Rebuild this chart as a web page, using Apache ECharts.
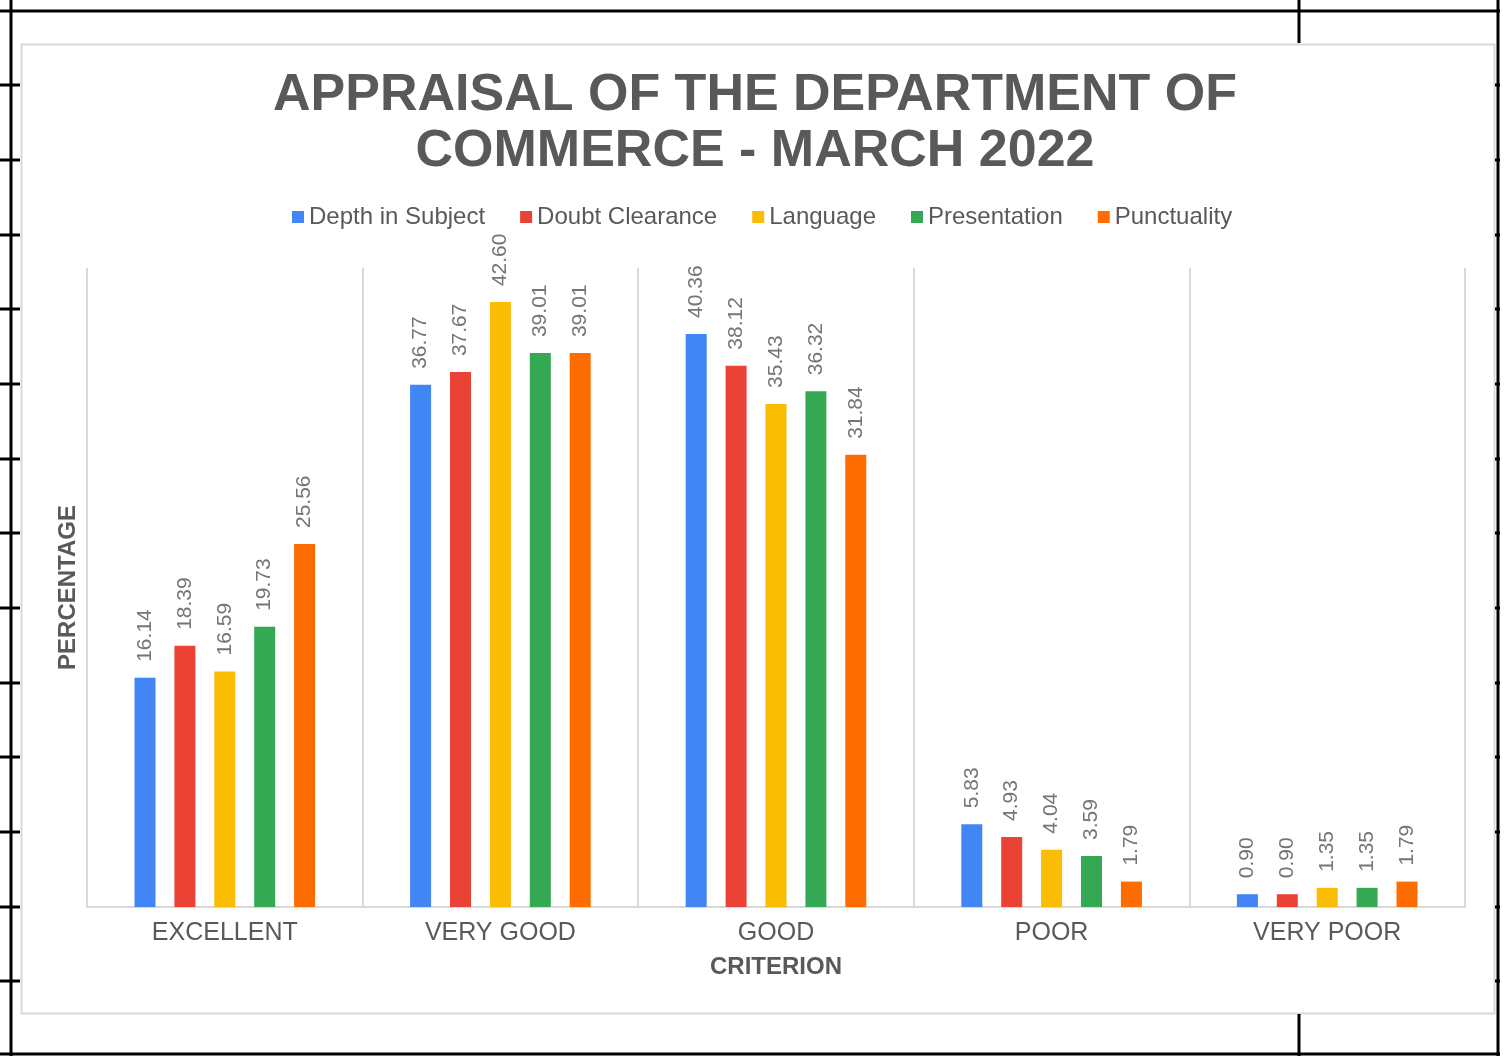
<!DOCTYPE html>
<html>
<head>
<meta charset="utf-8">
<script src="https://cdn.jsdelivr.net/npm/echarts@6/dist/echarts.min.js"></script>
<style>html,body{margin:0;padding:0;background:#fff;}#c{width:1510px;height:1056px;}</style>
</head>
<body>
<div id="c"></div>
<script>
const categories = ['EXCELLENT', 'VERY GOOD', 'GOOD', 'POOR', 'VERY POOR'];
const seriesNames = ['Depth in Subject', 'Doubt Clearance', 'Language', 'Presentation', 'Punctuality'];
const depthInSubject = [16.14, 36.77, 40.36, 5.83, 0.90];
const doubtClearance = [18.39, 37.67, 38.12, 4.93, 0.90];
const language = [16.59, 42.60, 35.43, 4.04, 1.35];
const presentation = [19.73, 39.01, 36.32, 3.59, 1.35];
const punctuality = [25.56, 39.01, 31.84, 1.79, 1.79];
const colors = ['#4285F4', '#EA4335', '#FBBC04', '#34A853', '#FF6D01'];
const seriesData = [depthInSubject, doubtClearance, language, presentation, punctuality];

const black = '#000';
const decor = [];
// outer document frame lines
decor.push({type:'line', shape:{x1:0,y1:11,x2:1500,y2:11}, style:{stroke:black,lineWidth:3}});
decor.push({type:'line', shape:{x1:0,y1:1054,x2:1500,y2:1054}, style:{stroke:black,lineWidth:3}});
decor.push({type:'line', shape:{x1:11,y1:0,x2:11,y2:1056}, style:{stroke:black,lineWidth:3}});
decor.push({type:'line', shape:{x1:1498,y1:0,x2:1498,y2:1056}, style:{stroke:black,lineWidth:3}});
decor.push({type:'line', shape:{x1:1299,y1:0,x2:1299,y2:43}, style:{stroke:black,lineWidth:3}});
decor.push({type:'line', shape:{x1:1299,y1:1014,x2:1299,y2:1056}, style:{stroke:black,lineWidth:3}});
for (let i = 0; i < 13; i++) {
  const y = Math.round(85.3 + i * 74.67);
  decor.push({type:'line', shape:{x1:0,y1:y,x2:20,y2:y}, style:{stroke:black,lineWidth:3}});
  decor.push({type:'line', shape:{x1:1495,y1:y,x2:1500,y2:y}, style:{stroke:black,lineWidth:3}});
}
decor.push({type:'rect', z:-10, shape:{x:21.5,y:44.5,width:1473,height:969}, style:{fill:'#fff',stroke:'#d9d9d9',lineWidth:2}});

const chart = echarts.init(document.getElementById('c'), null, {renderer:'canvas'});
chart.setOption({
  backgroundColor: '#fff',
  animation: false,
  textStyle: {fontFamily: 'Arial, "Liberation Sans", sans-serif'},
  graphic: decor,
  title: {
    text: 'APPRAISAL OF THE DEPARTMENT OF\nCOMMERCE - MARCH 2022',
    left: 'center',
    top: 63,
    textStyle: {fontSize: 52, fontWeight: 'bold', color: '#595959', lineHeight: 56, fontFamily: 'Arial, "Liberation Sans", sans-serif'}
  },
  legend: {
    top: 200,
    left: 287,
    itemWidth: 12,
    itemHeight: 12,
    itemGap: 35,
    icon: 'rect',
    textStyle: {fontSize: 24, color: '#595959'},
    data: seriesNames
  },
  grid: {left: 87, right: 45, top: 268, bottom: 149, containLabel: false},
  xAxis: {
    type: 'category',
    data: categories,
    name: 'CRITERION',
    nameLocation: 'middle',
    nameGap: 48,
    nameTextStyle: {fontSize: 24, fontWeight: 'bold', color: '#595959'},
    axisLine: {lineStyle: {color: '#d9d9d9', width: 2}},
    axisTick: {show: false},
    axisLabel: {fontSize: 25, color: '#595959', margin: 14},
    splitLine: {show: true, lineStyle: {color: '#d9d9d9', width: 2}}
  },
  yAxis: {
    type: 'value',
    min: 0,
    max: 45,
    name: 'PERCENTAGE',
    nameLocation: 'middle',
    nameGap: 7,
    nameTextStyle: {fontSize: 24, fontWeight: 'bold', color: '#595959'},
    axisLine: {show: false},
    axisTick: {show: false},
    axisLabel: {show: false},
    splitLine: {show: false}
  },
  series: seriesNames.map((n, i) => ({
    name: n,
    type: 'bar',
    data: seriesData[i],
    barWidth: 21,
    barGap: '90%',
    itemStyle: {color: colors[i]},
    label: {
      show: true,
      position: 'top',
      rotate: 90,
      align: 'left',
      verticalAlign: 'middle',
      distance: 16,
      fontSize: 21,
      color: '#757575',
      formatter: p => p.value.toFixed(2)
    }
  }))
});
</script>
</body>
</html>
